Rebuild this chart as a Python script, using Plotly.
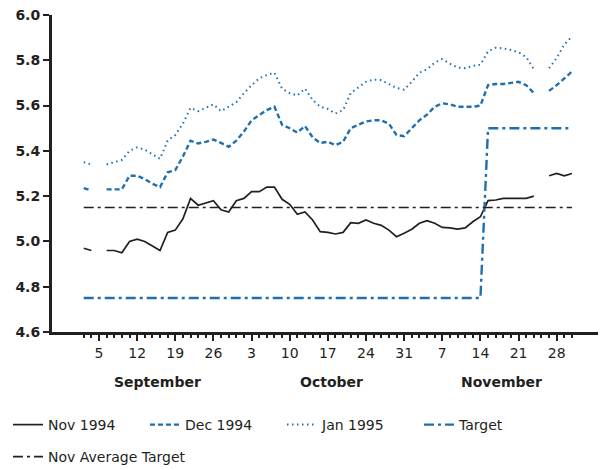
import plotly.graph_objects as go

# trading-day slot index (0 = Mon Sep 5 1994), Sep 1 .. Nov 30
slots = list(range(-2, 63))

nov_1994 = [4.97, 4.96, None, 4.96, 4.96, 4.95, 5.00, 5.01, 5.00, 4.98, 4.96,
            5.04, 5.05, 5.10, 5.19, 5.16, 5.17, 5.18, 5.14, 5.13, 5.18, 5.19,
            5.22, 5.22, 5.24, 5.24, 5.186, 5.164, 5.12, 5.13, 5.095, 5.043,
            5.04, 5.033, 5.04, 5.083, 5.08, 5.095, 5.08, 5.071, 5.05, 5.021,
            5.036, 5.054, 5.08, 5.092, 5.08, 5.062, 5.06, 5.054, 5.06, 5.087,
            5.109, 5.18, 5.183, 5.19, 5.19, 5.19, 5.19, 5.20, None, 5.29,
            5.30, 5.29, 5.30]

dec_1994 = [5.235, 5.225, None, 5.23, 5.23, 5.23, 5.29, 5.29, 5.275, 5.255,
            5.24, 5.305, 5.315, 5.375, 5.445, 5.433, 5.44, 5.45, 5.435, 5.418,
            5.445, 5.485, 5.535, 5.558, 5.58, 5.595, 5.515, 5.50, 5.48, 5.51,
            5.46, 5.435, 5.44, 5.425, 5.44, 5.50, 5.515, 5.53, 5.535, 5.535,
            5.52, 5.47, 5.465, 5.50, 5.535, 5.56, 5.595, 5.61, 5.605, 5.595,
            5.595, 5.595, 5.60, 5.69, 5.695, 5.695, 5.70, 5.705, 5.69, 5.655,
            None, 5.665, 5.69, 5.72, 5.75]

jan_1995 = [5.35, 5.34, None, 5.34, 5.35, 5.36, 5.40, 5.415, 5.405, 5.385,
            5.365, 5.445, 5.47, 5.52, 5.59, 5.575, 5.59, 5.605, 5.575, 5.595,
            5.615, 5.655, 5.69, 5.72, 5.735, 5.745, 5.675, 5.655, 5.645, 5.675,
            5.625, 5.595, 5.585, 5.565, 5.58, 5.655, 5.68, 5.705, 5.715, 5.712,
            5.695, 5.678, 5.67, 5.705, 5.745, 5.76, 5.79, 5.805, 5.785, 5.768,
            5.765, 5.775, 5.78, 5.84, 5.855, 5.853, 5.845, 5.835, 5.815, 5.76,
            None, 5.765, 5.81, 5.87, 5.905]

target_low, target_high, target_change_slot = 4.75, 5.50, 51
target = [target_low if s < target_change_slot else target_high for s in slots]
nov_avg_target_value = 5.15
nov_avg_target = [nov_avg_target_value for s in slots]

tick_slots = [0, 5, 10, 15, 20, 25, 30, 35, 40, 45, 50, 55, 60]
tick_labels = ["5", "12", "19", "26", "3", "10", "17", "24", "31", "7", "14", "21", "28"]
month_labels = ["September", "October", "November"]
month_slots = [7.7, 30.5, 52.7]

y_ticks = [4.6, 4.8, 5.0, 5.2, 5.4, 5.6, 5.8, 6.0]

BLUE = "#1f6fae"
INK = "#231f20"
FONT = "DejaVu Sans"

fig = go.Figure()
fig.add_trace(go.Scatter(x=slots, y=nov_1994, mode="lines", name="Nov 1994",
                         line=dict(color=INK, width=1.7), legend="legend"))
fig.add_trace(go.Scatter(x=slots, y=dec_1994, mode="lines", name="Dec 1994",
                         line=dict(color=BLUE, width=2.4, dash="5px,3px"), legend="legend"))
fig.add_trace(go.Scatter(x=slots, y=jan_1995, mode="lines", name="Jan 1995",
                         line=dict(color=BLUE, width=2, dash="1.5px,3.5px"), legend="legend"))
fig.add_trace(go.Scatter(x=slots, y=target, mode="lines", name="Target",
                         line=dict(color=BLUE, width=2.4, dash="10px,4px,3px,4px"), legend="legend"))
fig.add_trace(go.Scatter(x=slots, y=nov_avg_target, mode="lines", name="Nov Average Target",
                         line=dict(color=INK, width=1.6, dash="10px,4px,3px,4px"), legend="legend2"))

for lab, s in zip(month_labels, month_slots):
    fig.add_annotation(x=s, y=-0.158, xref="x", yref="paper", text=lab,
                       showarrow=False, yanchor="middle",
                       font=dict(family=FONT, size=14, color=INK, weight="bold"))

legend_common = dict(orientation="h", xref="container", yref="container",
                     xanchor="left", yanchor="top",
                     itemwidth=30, font=dict(family=FONT, size=14, color=INK),
                     traceorder="normal", bgcolor="rgba(0,0,0,0)")

# the page body adds an 8px offset; the figure is sized to fit the window
fig.update_layout(
    width=598, height=462,
    margin=dict(l=44, r=2, t=7, b=138, autoexpand=False),
    paper_bgcolor="white", plot_bgcolor="white",
    font=dict(family=FONT, size=14, color=INK),
    showlegend=True,
    legend=dict(x=-0.0067, y=0.132, entrywidth=92, entrywidthmode="pixels",
                **legend_common),
    legend2=dict(x=-0.0067, y=0.0628, **legend_common),
    xaxis=dict(range=[-6.16, 66.2], showgrid=False, zeroline=False, automargin=False,
               showline=True, linewidth=3, linecolor=INK,
               tickmode="array", tickvals=tick_slots, ticktext=tick_labels,
               ticks="outside", ticklen=6, tickwidth=2, tickcolor=INK,
               tickfont=dict(family=FONT, size=14, color=INK),
               ticklabeloverflow="allow",
               minor=dict(tickvals=slots, ticks="outside", ticklen=3,
                          tickwidth=2, tickcolor=INK, showgrid=False)),
    yaxis=dict(range=[4.6, 6.0], showgrid=False, zeroline=False, automargin=False,
               showline=True, linewidth=3, linecolor=INK,
               tickmode="array", tickvals=y_ticks, tickformat=".1f",
               ticks="outside", ticklen=6, tickwidth=2, tickcolor=INK,
               ticklabeloverflow="allow",
               tickfont=dict(family=FONT, size=14, color=INK, weight="bold")),
)

fig.write_html("out.html")
